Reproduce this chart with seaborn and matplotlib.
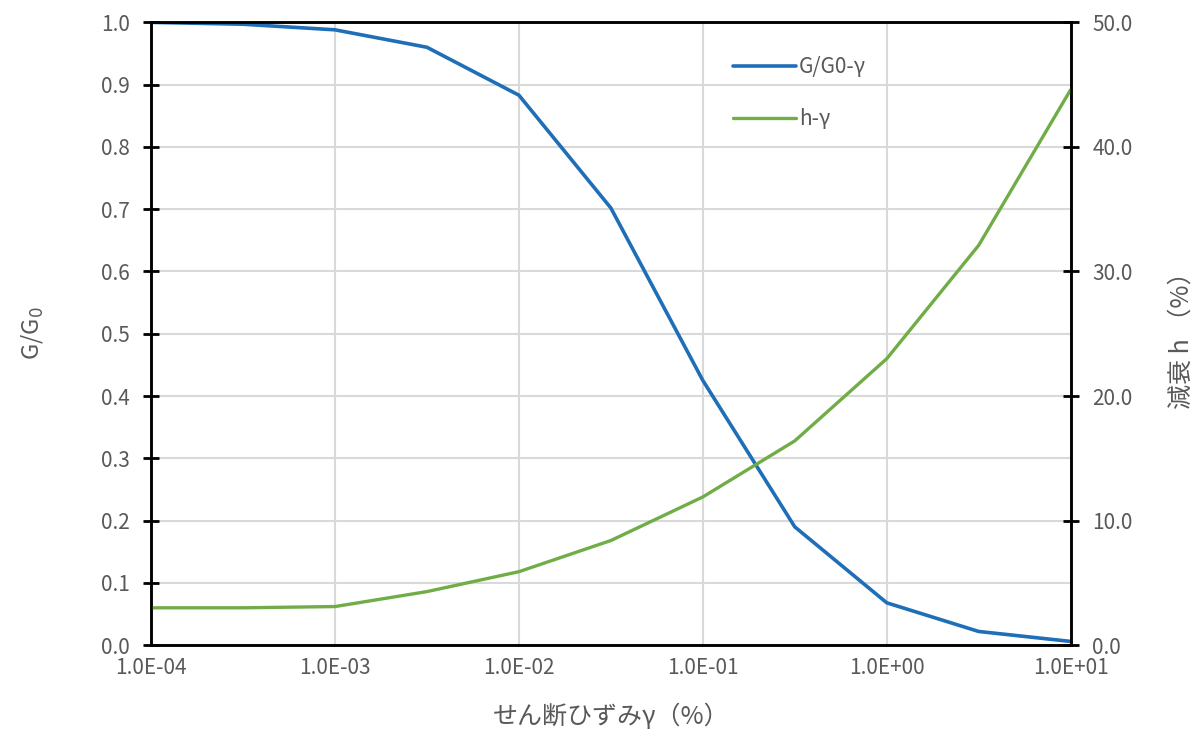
import numpy as np
import pandas as pd
import matplotlib
matplotlib.use("Agg")
import matplotlib.pyplot as plt
import seaborn as sns
from matplotlib.ticker import FuncFormatter, FixedLocator, NullLocator

# shear strain (%) and the two curves
strain = [1e-4, 3.16e-4, 1e-3, 3.16e-3, 1e-2, 3.16e-2, 1e-1, 3.16e-1, 1e0, 3.16e0, 1e1]
g_ratio = [1.000, 0.997, 0.988, 0.960, 0.883, 0.702, 0.425, 0.190, 0.068, 0.022, 0.006]
damping = [3.0, 3.0, 3.1, 4.3, 5.9, 8.4, 11.9, 16.4, 23.0, 32.1, 44.6]

x_ticks = [1e-4, 1e-3, 1e-2, 1e-1, 1e0, 1e1]
left_ticks = [0.0, 0.1, 0.2, 0.3, 0.4, 0.5, 0.6, 0.7, 0.8, 0.9, 1.0]
right_ticks = [0, 10, 20, 30, 40, 50]

df = pd.DataFrame({"strain": strain, "g": g_ratio, "h": damping})

sns.set_theme(style="white")
plt.rcParams["font.family"] = ["Noto Sans CJK JP", "DejaVu Sans"]

blue = "#1F6EB8"
green = "#70AD47"
label_grey = "#595959"

fig = plt.figure(figsize=(11.99, 7.45), dpi=100)
ax = fig.add_axes([0.126, 0.134, 0.767, 0.836])
ax2 = ax.twinx()

sns.lineplot(data=df, x="strain", y="g", ax=ax, color=blue, linewidth=2.6,
             label="G/G0-γ", legend=False)
sns.lineplot(data=df, x="strain", y="h", ax=ax2, color=green, linewidth=2.4,
             label="h-γ", legend=False)

ax.set_xscale("log")
ax.set_xlim(1e-4, 1e1)
ax.set_ylim(0, 1.0)
ax2.set_ylim(0, 50)

ax.xaxis.set_major_locator(FixedLocator(x_ticks))
ax.xaxis.set_minor_locator(NullLocator())
ax.xaxis.set_major_formatter(FuncFormatter(lambda v, p: f"{v:.1E}"))
ax.set_yticks(left_ticks)
ax.yaxis.set_major_formatter(FuncFormatter(lambda v, p: f"{v:.1f}"))
ax2.set_yticks(right_ticks)
ax2.yaxis.set_major_formatter(FuncFormatter(lambda v, p: f"{v:.1f}"))

ax.grid(True, which="major", color="#D9D9D9", linewidth=1.5)
ax.set_axisbelow(True)

for a in (ax, ax2):
    for s in a.spines.values():
        s.set_color("black")
        s.set_linewidth(1.8)
    a.tick_params(direction="inout", length=11, width=2, color="black",
                  labelcolor=label_grey, labelsize=15)
ax.tick_params(axis="x", pad=3)
ax.tick_params(axis="y", pad=10)
ax2.tick_params(axis="y", pad=10)

ax.set_xlabel("せん断ひずみγ（%）", fontsize=18, color=label_grey, labelpad=18)
ax.set_ylabel("G/G$_\\mathrm{0}$", fontsize=17, color=label_grey, labelpad=40)
ax2.set_ylabel("減衰 h （%）", fontsize=18, color=label_grey, labelpad=26)

handles = [ax.get_lines()[0], ax2.get_lines()[0]]
leg = fig.legend(handles, ["G/G0-γ", "h-γ"], loc="upper left",
                 bbox_to_anchor=(0.596, 0.95), frameon=False, fontsize=15,
                 labelspacing=1.45, handlelength=3.0, handletextpad=0.15)
for t in leg.get_texts():
    t.set_color(label_grey)

fig.savefig("out.png", dpi=100)
